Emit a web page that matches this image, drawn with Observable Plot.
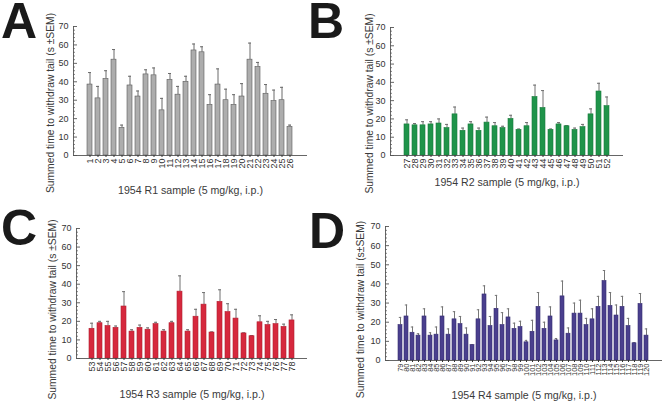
<!DOCTYPE html>
<html>
<head>
<meta charset="utf-8">
<script src="https://cdn.jsdelivr.net/npm/d3@7"></script>
<script src="https://cdn.jsdelivr.net/npm/@observablehq/plot@0.6"></script>
<style>
  html, body { margin: 0; padding: 0; background: #fff; }
  #wrap { position: relative; width: 663px; height: 411px; overflow: hidden; background: #fff; }
  #wrap > svg { position: absolute; }
</style>
</head>
<body>
<div id="wrap"></div>
<script>
// ---------- Data ----------
const idsA = ["1","2","3","4","5","6","7","8","9","10","11","12","13","14","15","16","17","18","19","20","21","22","23","24","25","26"];
const valsA = [38.5, 31, 41.5, 52, 15, 38, 32, 44, 43.5, 24.5, 41, 33, 40, 57, 56, 27.5, 38.5, 30, 27.5, 32, 52, 48, 33.5, 29.5, 30, 15.5];
const errsA = [6.5, 6.5, 4.5, 5.5, 1.5, 5, 3, 2.5, 4, 6.5, 3.5, 4.5, 3, 3.5, 3, 5.5, 8.5, 6, 5.5, 7, 9, 2.5, 5, 6, 7, 1];

const idsB = ["27","28","29","30","31","32","33","34","35","36","37","38","39","40","41","42","43","44","45","46","47","48","49","50","51","52"];
const valsB = [17, 16.5, 16.5, 17, 17.5, 15, 22.5, 13.5, 17, 13.5, 18, 16, 15, 20, 14, 16, 32, 26, 14, 17, 16, 14, 15.5, 22.5, 35, 27];
const errsB = [2.5, 1, 2, 1.5, 2.5, 2, 4, 1.5, 1.5, 1.5, 3, 2, 1, 2, 0.5, 2, 6.5, 9.5, 0.5, 1, 0.3, 1, 1.5, 3, 4.5, 5];

const idsC = ["53","54","55","56","57","58","59","60","61","62","63","64","65","66","67","68","69","70","71","72","73","74","75","76","77","78"];
const valsC = [16, 19, 17.5, 16.5, 28, 14.5, 16.5, 15.5, 18.5, 14.5, 19, 36, 14.5, 22.5, 29, 14, 30.5, 25, 21.5, 13.5, 12, 19.5, 18, 18.5, 17, 20.5];
const errsC = [3, 1, 2.5, 1, 8, 1, 1.5, 1, 1, 1, 1, 8.5, 1, 4, 6.5, 0.3, 6.5, 4.5, 5, 0.3, 0.3, 3.5, 2, 2.5, 1.5, 3];

const idsD = ["79","80","81","82","83","84","85","86","87","88","89","90","91","92","93","94","95","96","97","98","99","100","101","102","103","104","105","106","107","108","109","110","111","112","113","114","115","116","117","118","119","120"];
const valsD = [18.5, 23, 14.5, 13, 23, 13, 13.5, 23, 13.5, 21.5, 19, 13.5, 8, 21.5, 34.5, 18, 27, 18.5, 22.5, 16.5, 17.5, 9.5, 15, 28, 16.5, 23, 10.5, 33.5, 14, 24.5, 24.5, 18.5, 21.5, 28, 41.5, 28.5, 23.5, 28, 18, 9, 29.5, 13];
const errsD = [4, 6, 3, 1, 4, 1.5, 4, 5, 3, 4, 4, 3.5, 0.3, 5, 4.5, 5, 7, 6.5, 4.5, 3, 3, 1, 6, 7.5, 3.5, 5, 1, 8, 3, 5.5, 7, 3.5, 5.5, 5.5, 5.5, 7, 5.5, 5.5, 4, 0.3, 5.5, 3.5];

const yTicks = [0, 10, 20, 30, 40, 50, 60, 70];
const yMinor = [2,4,6,8,12,14,16,18,22,24,26,28,32,34,36,38,42,44,46,48,52,54,56,58,62,64,66,68];

const yTitleStd = "Summed time to withdraw tail (s \u00B1SEM)";
const yTitleD = "Summed time to withdraw tail (s\u00B1SEM)";
const xTitles = ["1954 R1 sample (5 mg/kg, i.p.)", "1954 R2 sample (5 mg/kg, i.p.)", "1954 R3 sample (5 mg/kg, i.p.)", "1954 R4 sample (5 mg/kg, i.p.)"];
const letters = ["A", "B", "C", "D"];

const FONT = "'Liberation Sans', Arial, Helvetica, sans-serif";

function panel(o) {
  const data = o.ids.map((id, i) => ({id, v: o.vals[i], e: o.errs[i]}));
  const fw = o.width - o.ml - o.mr;
  const svg = Plot.plot({
    width: o.width, height: o.height,
    marginTop: o.mt, marginRight: o.mr, marginBottom: o.mb, marginLeft: o.ml,
    style: {fontFamily: FONT, fontSize: "9px", color: "#333", background: "transparent", overflow: "visible"},
    x: {domain: o.ids, paddingInner: o.pi, paddingOuter: o.po},
    y: {domain: [0, 70]},
    marks: [
      Plot.ruleX(data, {x: "id", y1: "v", y2: d => d.v + d.e, stroke: o.errColor, strokeWidth: 1}),
      Plot.tickY(data, {x: "id", y: d => d.v + d.e, stroke: o.errColor, strokeWidth: 1, insetLeft: o.cap, insetRight: o.cap}),
      Plot.barY(data, {x: "id", y: "v", fill: o.fill, stroke: o.stroke, strokeWidth: 0.6}),
      Plot.ruleY(yMinor, {y: d => d, insetRight: fw - 2, stroke: "#666", strokeWidth: 0.8}),
      Plot.ruleY(yTicks, {y: d => d, insetRight: fw - 4, stroke: "#555", strokeWidth: 0.9}),
      Plot.frame({anchor: "left", stroke: "#555", strokeWidth: 0.9}),
      Plot.ruleY([0], {stroke: "#555", strokeWidth: 0.9}),
      Plot.axisY({ticks: yTicks, tickSize: 0, tickPadding: 5, label: null, fontSize: 9, fill: "#333"}),
      Plot.axisX({tickRotate: -90, tickSize: 2, tickPadding: 1, label: null, fontSize: o.xFont, fill: "#333"}),
      Plot.text([o.yTitle], {frameAnchor: "left", textAnchor: "middle", lineAnchor: "middle", dx: o.ylDx, dy: o.ylDy, rotate: -90, fontSize: 10.3, fill: "#3a3a3a"}),
      Plot.text([o.xTitle], {frameAnchor: "bottom", textAnchor: "middle", dy: o.xtDy, fontSize: 10.6, fill: "#3a3a3a"})
    ]
  });
  svg.style.left = o.left + "px";
  svg.style.top = o.top + "px";
  return svg;
}

const wrap = document.getElementById("wrap");

wrap.appendChild(panel({ids: idsA, vals: valsA, errs: errsA, fill: "#adadad", stroke: "#5a5a5a", errColor: "#6a6a6a",
  left: 0, top: 0, width: 330, height: 205, mt: 26, mr: 23, mb: 50, ml: 73, pi: 0.33, po: 0.45, cap: 1,
  xFont: 9, yTitle: yTitleStd, xTitle: xTitles[0], ylDx: -23, ylDy: 12, xtDy: 38}));

wrap.appendChild(panel({ids: idsB, vals: valsB, errs: errsB, fill: "#1f944a", stroke: "#1a7a3c", errColor: "#707070",
  left: 330, top: 0, width: 333, height: 205, mt: 27, mr: 40, mb: 50, ml: 60, pi: 0.33, po: 0.45, cap: 1,
  xFont: 9, yTitle: yTitleStd, xTitle: xTitles[1], ylDx: -21, ylDy: 12, xtDy: 30}));

wrap.appendChild(panel({ids: idsC, vals: valsC, errs: errsC, fill: "#d6283d", stroke: "#b01e30", errColor: "#707070",
  left: 0, top: 205, width: 330, height: 206, mt: 23, mr: 23, mb: 53, ml: 76, pi: 0.33, po: 0.4, cap: 1,
  xFont: 9, yTitle: yTitleStd, xTitle: xTitles[2], ylDx: -24, ylDy: 16, xtDy: 39}));

wrap.appendChild(panel({ids: idsD, vals: valsD, errs: errsD, fill: "#4a3f8e", stroke: "#352c6e", errColor: "#777777",
  left: 330, top: 205, width: 333, height: 206, mt: 21, mr: 1, mb: 51, ml: 55, pi: 0.28, po: 0.2, cap: 0.8,
  xFont: 7.5, yTitle: yTitleD, xTitle: xTitles[3], ylDx: -25, ylDy: 16, xtDy: 38}));

// Panel letters
const ov = d3.select(wrap).append("svg")
  .attr("width", 663).attr("height", 411)
  .style("left", "0px").style("top", "0px");
const letterPos = [[1, 38], [308, 38], [1, 245], [309, 248]];
ov.selectAll("text").data(letters).join("text")
  .attr("x", (d, i) => letterPos[i][0])
  .attr("y", (d, i) => letterPos[i][1])
  .attr("font-family", FONT)
  .attr("font-weight", "bold")
  .attr("font-size", 50)
  .attr("fill", "#1a1a1a")
  .text(d => d);
</script>
</body>
</html>
